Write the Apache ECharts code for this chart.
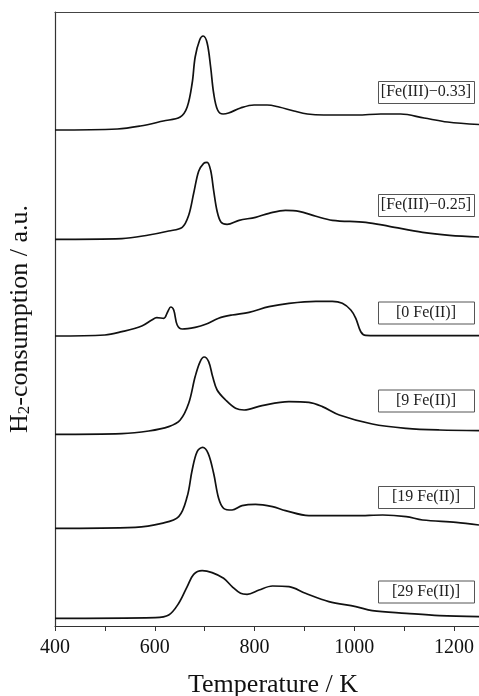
<!DOCTYPE html>
<html><head><meta charset="utf-8">
<script src="https://cdn.jsdelivr.net/npm/echarts@6/dist/echarts.min.js"></script>
<style>html,body{margin:0;padding:0;background:#fff}#c{width:479px;height:696px}</style>
</head><body><div id="c"></div>
<script>
// Temperature (K) and H2-consumption (a.u., above each curve's own baseline)
const t1 = [400,525,571,617,651,665,675,681,690,697,705,712,718,726,737,748,772,799,825,849,879,906,939,1006,1053,1093,1140,1187,1250];
const h1 = [0,1,4,9,13,23,47,73,90,94,87,63,37,20,16,17,22,25,25,23,19,16,15,15,16,16,12,8,5.5];
const t2 = [400,534,588,628,655,668,678,688,698,705,712,718,725,733,745,769,802,829,862,889,923,956,1023,1070,1137,1191,1250];
const h2 = [0,0.7,4.3,8.3,12,24,46,68,76,77,69,49,28,17,15,19,22,26,29,28,23,19,17,13,7,4,2.3];
const t3 = [400,500,534,574,594,604,618,626,632,638,645,655,681,702,728,755,789,829,869,923,956,976,993,1003,1013,1023,1070,1250];
const h3 = [0,1,4.3,10,16,18.3,17.7,24.3,29,26,11,7,8.7,11.7,17.7,21,23.7,29.3,32.7,34.7,34.7,32.7,26,17.7,4.3,0.7,0.3,0.3];
const t4 = [400,534,588,628,651,668,681,691,699,708,716,725,742,762,779,815,869,909,936,970,1036,1104,1171,1250];
const h4 = [0,0.7,3.3,7.7,14.3,31,57.7,72.7,77.3,72.7,57.7,44.3,34.3,26,24.3,28.7,32.7,32,27.7,19.3,10.3,6,4.3,3.7];
const t5 = [400,561,614,648,665,675,685,696,707,718,728,738,755,775,802,836,862,909,1003,1057,1104,1137,1204,1250];
const h5 = [0,1,5,11.7,31.7,58.3,76.7,81,75,55,30,20,18.3,22.7,24,21.7,17.7,12.7,12.7,13.3,11.7,8.3,6,3.3];
const t6 = [400,601,628,648,665,678,695,715,738,755,772,785,809,836,869,902,949,1003,1036,1104,1171,1250];
const h6 = [0,0.7,3.3,15,31.7,44,47.7,45.7,40,31.7,25,24,28.3,32.3,31.7,25,16.7,11.7,7.7,5,2.7,1.7];

// Vertical stacking offset of each curve (a.u.)
const offsets = [496, 386.7, 290, 191.7, 97.7, 7.7];
const labels = ['[Fe(III)\u22120.33]', '[Fe(III)\u22120.25]', '[0 Fe(II)]', '[9 Fe(II)]', '[19 Fe(II)]', '[29 Fe(II)]'];
const xTicks = [400, 600, 800, 1000, 1200];

const temps = [t1, t2, t3, t4, t5, t6];
const heights = [h1, h2, h3, h4, h5, h6];
const FONT = 'Liberation Serif, Times New Roman, serif';

const series = temps.map((t, i) => ({
  type: 'line',
  data: t.map((x, j) => [x, offsets[i] + heights[i][j]]),
  smooth: 0.35,
  symbol: 'none',
  lineStyle: { color: '#111', width: 1.7 },
  silent: true,
  z: 3
}));

const labelCenters = [92, 205, 312.5, 400.5, 497, 591.5];
const graphic = [];
labels.forEach((txt, i) => {
  const cy = labelCenters[i];
  graphic.push({
    type: 'rect', left: 378, top: cy - 11, z: 10,
    shape: { width: 96, height: 22 },
    style: { fill: '#fff', stroke: '#555', lineWidth: 1 }
  });
  graphic.push({
    type: 'text', x: 426, y: cy, z: 11,
    style: { text: txt, font: '16px ' + FONT, fill: '#222', textAlign: 'center', textVerticalAlign: 'middle' }
  });
});

const chart = echarts.init(document.getElementById('c'), null, { renderer: 'canvas' });
chart.setOption({
  animation: false,
  backgroundColor: '#fff',
  grid: { left: 55, right: 0, top: 12, bottom: 70, containLabel: false, outerBoundsMode: 'none' },
  xAxis: [{
    type: 'value', min: 400, max: 1250, interval: 100,
    axisLine: { show: true, lineStyle: { color: '#333', width: 1.2 } },
    axisTick: { show: true, inside: false, length: 5, lineStyle: { color: '#333' } },
    splitLine: { show: false },
    axisLabel: {
      margin: 12, color: '#111', fontFamily: FONT, fontSize: 20, showMaxLabel: false,
      formatter: v => xTicks.indexOf(v) >= 0 ? String(v) : ''
    },
    name: 'Temperature / K', nameLocation: 'middle', nameGap: 46,
    nameTextStyle: { fontFamily: FONT, fontSize: 26, color: '#111', padding: [0, 0, 0, 12] }
  }, {
    type: 'value', position: 'top', min: 400, max: 1250,
    axisLine: { show: true, lineStyle: { color: '#444', width: 1.2 } },
    axisTick: { show: false }, axisLabel: { show: false }, splitLine: { show: false }
  }],
  yAxis: {
    type: 'value', min: 0, max: 614,
    axisLine: { show: true, lineStyle: { color: '#333', width: 1.2 } },
    axisTick: { show: false }, axisLabel: { show: false }, splitLine: { show: false },
    name: '{a|H}{s|2}{a|-consumption / a.u.}', nameLocation: 'middle', nameRotate: 90, nameGap: 20,
    nameTextStyle: {
      color: '#111',
      rich: {
        a: { fontFamily: FONT, fontSize: 26, color: '#111', lineHeight: 30 },
        s: { fontFamily: FONT, fontSize: 17, color: '#111', padding: [10, 0, 0, 0], lineHeight: 30 }
      }
    }
  },
  series: series,
  graphic: graphic
});
</script></body></html>
